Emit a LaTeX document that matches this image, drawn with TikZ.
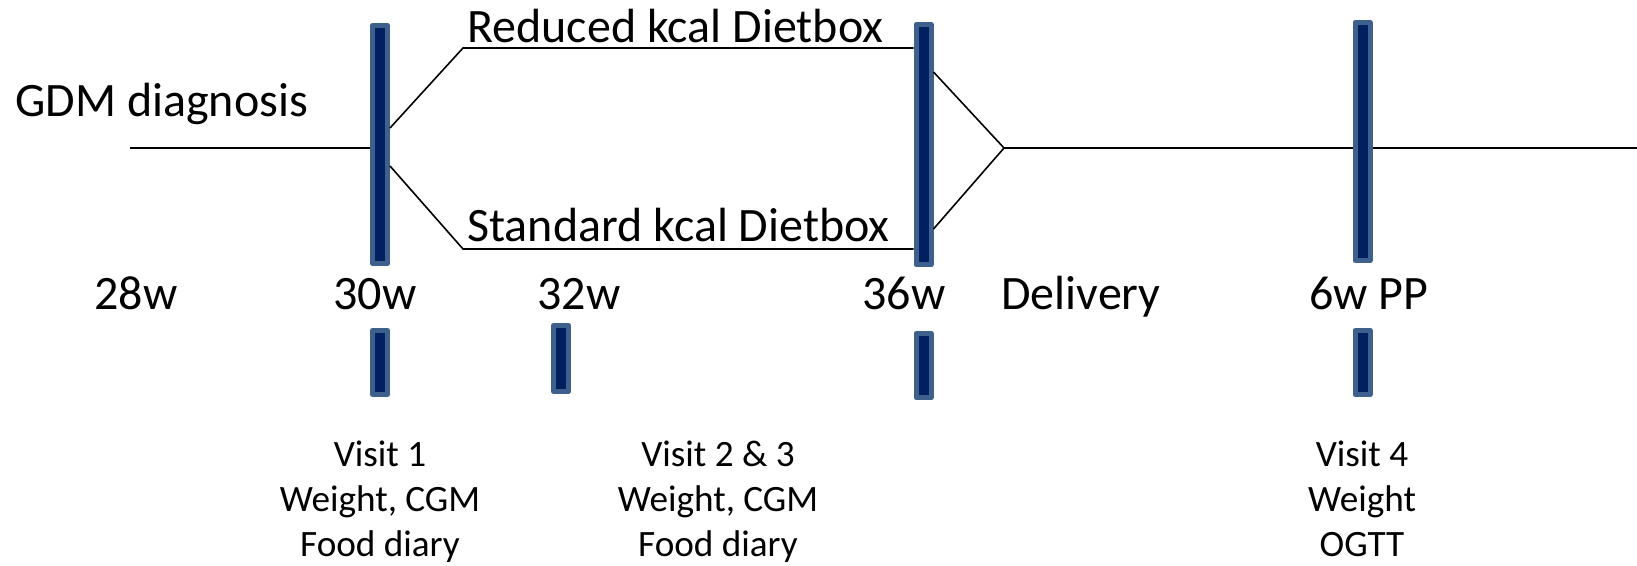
\documentclass[tikz,border=0pt]{standalone}
\usepackage{fontspec}
\setmainfont{Carlito}
\usetikzlibrary{calc}
\definecolor{barfill}{RGB}{0,32,96}
\definecolor{barline}{RGB}{61,96,140}
\begin{document}
\begin{tikzpicture}[x=0.5pt,y=-0.5pt,
  bar/.style={rectangle,draw=barline,fill=barfill,line width=2.5pt,line join=round,
    minimum width=7.5pt,inner sep=0pt},
  conn/.style={line width=0.8pt,black},
  big/.style={inner sep=0pt,font=\fontsize{24}{28.8}\selectfont},
  small/.style={inner sep=0pt,align=center,font=\fontsize{18.6}{22.4}\selectfont}]
\useasboundingbox (0,0) rectangle (1637,566);
% long bars
\node[bar,minimum height=119pt] (b1) at (380,144.5) {};
\node[bar,minimum height=120pt] (b2) at (923.5,144.5) {};
\node[bar,minimum height=119pt] (b3) at (1362.5,141.5) {};
% short bars
\node[bar,minimum height=32pt] (s1) at (380,362.5) {};
\node[bar,minimum height=33pt] (s2) at (561,358.5) {};
\node[bar,minimum height=32pt] (s3) at (923.5,365.5) {};
\node[bar,minimum height=32pt] (s4) at (1362.5,362.5) {};
% connectors
\coordinate (start) at (130,148);
\coordinate (u1) at (463,48);
\coordinate (l1) at (463,249);
\coordinate (dp) at (1004,148);
\coordinate (fin) at (1637,148);
\draw[conn] (start) -- (start -| b1.west);
\draw[conn] ($(b1.east)+(0,-16.5)$) -- (u1) -- (u1 -| b2.west);
\draw[conn] ($(b1.east)+(0,21.5)$) -- (l1) -- (l1 -| b2.west);
\draw[conn] ($(b2.east)+(0,-72.5)$) -- (dp) -- ($(b2.east)+(0,84.5)$);
\draw[conn] (dp) -- (dp -| b3.west);
\draw[conn] (dp -| b3.east) -- (fin);
% labels
\node[big,anchor=base west] (gdm) at (15,117) {GDM diagnosis};
\node[big,anchor=base west] (red) at (467,43) {Reduced kcal Dietbox};
\node[big,anchor=base west] (std) at (467,242) {Standard kcal Dietbox};
\node[big,anchor=base west] (w28) at (94,310) {28w};
\node[big,anchor=base west] (w30) at (333,310) {30w};
\node[big,anchor=base west] (w32) at (537,310) {32w};
\node[big,anchor=base west] (w36) at (862,310) {36w};
\node[big,anchor=base west] (del) at (1001,310) {Delivery};
\node[big,anchor=base west] (pp) at (1309,310) {6w PP};
\node[small,anchor=base] (v1) at (380,556) {Visit 1\\Weight, CGM\\Food diary};
\node[small,anchor=base] (v23) at (718,556) {Visit 2 \& 3\\Weight, CGM\\Food diary};
\node[small,anchor=base] (v4) at (1362,556) {Visit 4\\Weight\\OGTT};
\end{tikzpicture}
\end{document}
